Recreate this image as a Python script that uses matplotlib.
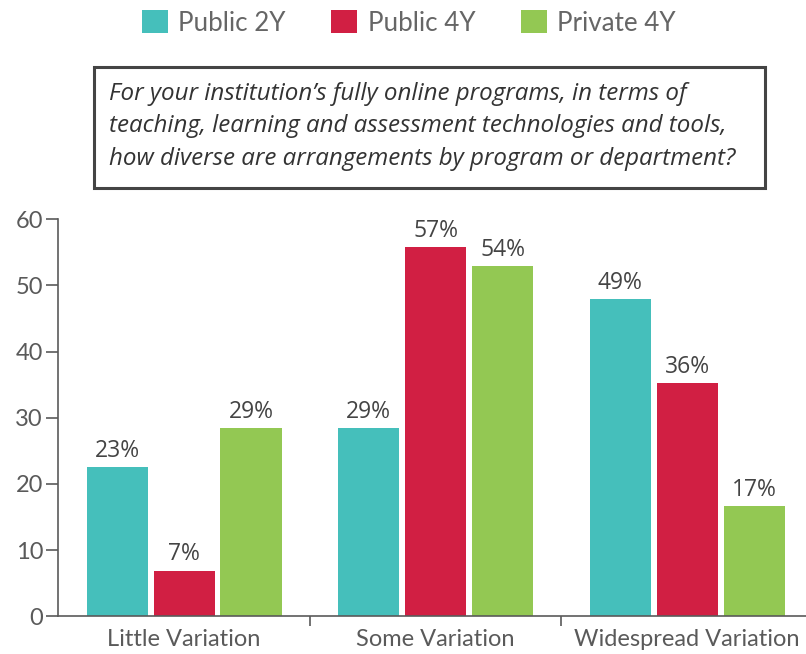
import numpy as np
import matplotlib
matplotlib.use("Agg")
import matplotlib.pyplot as plt
from matplotlib.patches import Patch, Rectangle

categories = ['Little Variation', 'Some Variation', 'Widespread Variation']
series_names = ['Public 2Y', 'Public 4Y', 'Private 4Y']
# bar heights as drawn, and the printed labels
public_2y = [22.6, 28.5, 47.9]
public_4y = [6.9, 55.8, 35.2]
private_4y = [28.5, 52.9, 16.7]
public_2y_labels = ['23%', '29%', '49%']
public_4y_labels = ['7%', '57%', '36%']
private_4y_labels = ['29%', '54%', '17%']
yticks = [0, 10, 20, 30, 40, 50, 60]
question = ("For your institution\u2019s fully online programs, in terms of\n"
            "teaching, learning and assessment technologies and tools,\n"
            "how diverse are arrangements by program or department?")

colors = ['#45BFBB', '#D11F43', '#93C853']
grey = '#5a5a5a'

W, H = 806, 654
fig = plt.figure(figsize=(W / 100, H / 100), dpi=100)
ax = fig.add_axes([58.3 / W, 37.7 / H, 1 - 58.3 / W, (616.3 - 219.3) / H])

x = np.arange(len(categories))
step = 0.266
width = 0.2425
series = [public_2y, public_4y, private_4y]
labels = [public_2y_labels, public_4y_labels, private_4y_labels]
for i, (vals, labs) in enumerate(zip(series, labels)):
    bars = ax.bar(x + (i - 1) * step, vals, width, color=colors[i], label=series_names[i])
    ax.bar_label(bars, labels=labs, padding=3, fontsize=16.5, color='#444444',
                 family='Open Sans')

ax.set_xlim(-0.5, 1.5 + (W - 561.5) / 251.5)
ax.set_ylim(0, 60)
ax.set_yticks(yticks)
ax.set_yticklabels([str(t) for t in yticks], family='Lato', fontsize=17, color=grey)
ax.set_xticks(x)
ax.set_xticklabels(categories, family='Lato', fontsize=17, color=grey)
ax.tick_params(axis='x', which='major', length=0, pad=9)
ax.set_xticks([0.5, 1.5], minor=True)
ax.tick_params(axis='x', which='minor', length=7, width=1.2, color=grey)
ax.tick_params(axis='y', length=9, width=1.2, color=grey, pad=2)
for s in ['top', 'right']:
    ax.spines[s].set_visible(False)
for s in ['left', 'bottom']:
    ax.spines[s].set_color(grey)
    ax.spines[s].set_linewidth(1.2)

handles = [Patch(facecolor=c, edgecolor='none') for c in colors]
fig.legend(handles, series_names, loc='center', bbox_to_anchor=(409 / W, 1 - 23 / H),
           ncol=3, frameon=False, handlelength=1.0, handleheight=1.0,
           handletextpad=0.4, columnspacing=1.75,
           prop={'family': 'Lato', 'size': 18.7},
           labelcolor='#666666')

# question box
fig.patches.append(Rectangle((93.5 / W, 1 - 188.5 / H), (764.5 - 93.5) / W, (188.5 - 67.5) / H,
                             transform=fig.transFigure, facecolor='white',
                             edgecolor='#444444', linewidth=2.2))
fig.text(109 / W, 1 - 126.5 / H, question, ha='left', va='center', fontsize=17.4,
         family='Open Sans', style='italic', color='#333333', linespacing=1.45)

fig.savefig('out.png', dpi=100)
